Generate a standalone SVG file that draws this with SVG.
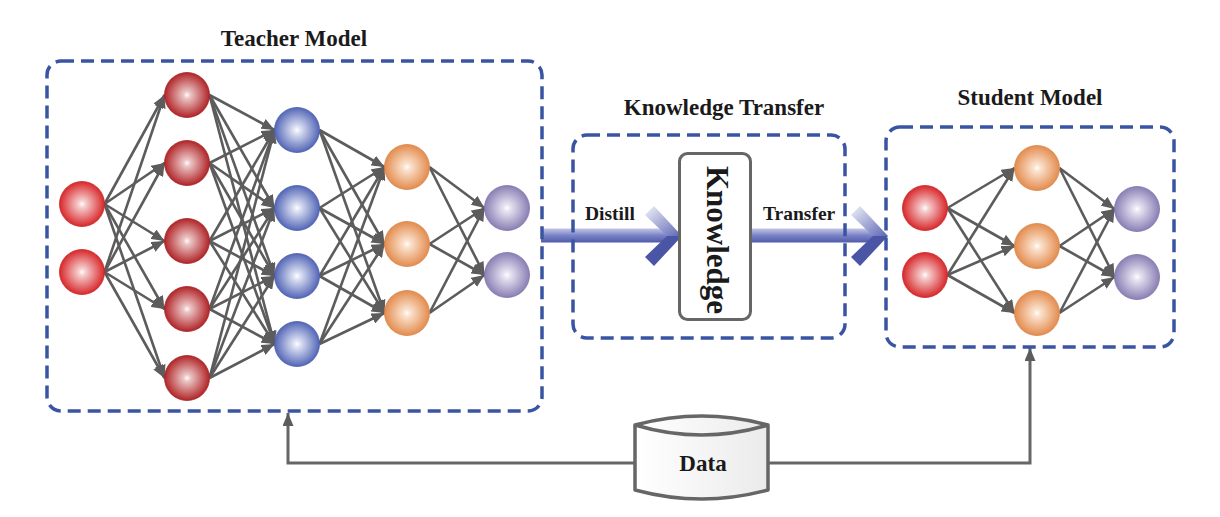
<svg xmlns="http://www.w3.org/2000/svg" width="1220" height="517" viewBox="0 0 1220 517">
<style>
.title{font-family:"Liberation Serif","Times New Roman",serif;font-weight:bold;font-size:23px;fill:#1a1a1a;text-anchor:middle}
.lbl{font-family:"Liberation Serif","Times New Roman",serif;font-weight:bold;font-size:19.5px;fill:#1a1a1a}
.dbox{fill:none;stroke:#3a54a4;stroke-width:3.5;stroke-dasharray:13 7}
.conn line{stroke:#5c5c5c;stroke-width:2.6;marker-end:url(#ah)}
.wire{fill:none;stroke:#666;stroke-width:3;marker-end:url(#ah)}
.n{stroke-width:0.8}
</style>
<defs>
<marker id="ah" markerUnits="userSpaceOnUse" markerWidth="14" markerHeight="11" refX="13" refY="5.5" orient="auto">
<path d="M0,0 L13,5.5 L0,11 z" fill="#5c5c5c"/>
</marker>
<radialGradient id="gRed" cx="50%" cy="50%" r="50%"><stop offset="0" stop-color="#ffffff"/><stop offset="0.15" stop-color="#f6d0d0"/><stop offset="1" stop-color="#d8282b"/></radialGradient>
<radialGradient id="gDred" cx="50%" cy="50%" r="50%"><stop offset="0" stop-color="#ffffff"/><stop offset="0.15" stop-color="#ecc6c6"/><stop offset="1" stop-color="#b02528"/></radialGradient>
<radialGradient id="gBlue" cx="50%" cy="50%" r="50%"><stop offset="0" stop-color="#ffffff"/><stop offset="0.15" stop-color="#dfe3f4"/><stop offset="1" stop-color="#5366b6"/></radialGradient>
<radialGradient id="gOr" cx="50%" cy="50%" r="50%"><stop offset="0" stop-color="#ffffff"/><stop offset="0.15" stop-color="#fbe3d0"/><stop offset="1" stop-color="#e38c4e"/></radialGradient>
<radialGradient id="gPu" cx="50%" cy="50%" r="50%"><stop offset="0" stop-color="#ffffff"/><stop offset="0.15" stop-color="#e8e5f2"/><stop offset="1" stop-color="#8a7fb4"/></radialGradient>
<linearGradient id="gShaft" x1="0" y1="0" x2="0" y2="1"><stop offset="0" stop-color="#c3c6e6"/><stop offset="0.5" stop-color="#7a82c6"/><stop offset="1" stop-color="#4f5aab"/></linearGradient>
<linearGradient id="gArmU" x1="0" y1="0" x2="1" y2="1"><stop offset="0" stop-color="#f2f2f8"/><stop offset="1" stop-color="#5c66b4"/></linearGradient>
<linearGradient id="gCyl" x1="0" y1="0" x2="1" y2="0"><stop offset="0" stop-color="#ffffff"/><stop offset="1" stop-color="#ebebeb"/></linearGradient>
</defs>

<g id="connectors">
<g class="conn">
<!-- Teacher L1 -> L2 -->
<line x1="104.5" y1="204" x2="164.5" y2="95"/><line x1="104.5" y1="204" x2="164.5" y2="163"/><line x1="104.5" y1="204" x2="164.5" y2="241"/><line x1="104.5" y1="204" x2="164.5" y2="309"/><line x1="104.5" y1="204" x2="164.5" y2="378"/>
<line x1="104.5" y1="272" x2="164.5" y2="95"/><line x1="104.5" y1="272" x2="164.5" y2="163"/><line x1="104.5" y1="272" x2="164.5" y2="241"/><line x1="104.5" y1="272" x2="164.5" y2="309"/><line x1="104.5" y1="272" x2="164.5" y2="378"/>
<!-- L2 -> L3 -->
<line x1="209.5" y1="95" x2="274.5" y2="130"/><line x1="209.5" y1="95" x2="274.5" y2="208"/><line x1="209.5" y1="95" x2="274.5" y2="276"/><line x1="209.5" y1="95" x2="274.5" y2="344"/>
<line x1="209.5" y1="163" x2="274.5" y2="130"/><line x1="209.5" y1="163" x2="274.5" y2="208"/><line x1="209.5" y1="163" x2="274.5" y2="276"/><line x1="209.5" y1="163" x2="274.5" y2="344"/>
<line x1="209.5" y1="241" x2="274.5" y2="130"/><line x1="209.5" y1="241" x2="274.5" y2="208"/><line x1="209.5" y1="241" x2="274.5" y2="276"/><line x1="209.5" y1="241" x2="274.5" y2="344"/>
<line x1="209.5" y1="309" x2="274.5" y2="130"/><line x1="209.5" y1="309" x2="274.5" y2="208"/><line x1="209.5" y1="309" x2="274.5" y2="276"/><line x1="209.5" y1="309" x2="274.5" y2="344"/>
<line x1="209.5" y1="378" x2="274.5" y2="130"/><line x1="209.5" y1="378" x2="274.5" y2="208"/><line x1="209.5" y1="378" x2="274.5" y2="276"/><line x1="209.5" y1="378" x2="274.5" y2="344"/>
<!-- L3 -> L4 -->
<line x1="319.5" y1="130" x2="384.5" y2="167"/><line x1="319.5" y1="130" x2="384.5" y2="244"/><line x1="319.5" y1="130" x2="384.5" y2="313"/>
<line x1="319.5" y1="208" x2="384.5" y2="167"/><line x1="319.5" y1="208" x2="384.5" y2="244"/><line x1="319.5" y1="208" x2="384.5" y2="313"/>
<line x1="319.5" y1="276" x2="384.5" y2="167"/><line x1="319.5" y1="276" x2="384.5" y2="244"/><line x1="319.5" y1="276" x2="384.5" y2="313"/>
<line x1="319.5" y1="344" x2="384.5" y2="167"/><line x1="319.5" y1="344" x2="384.5" y2="244"/><line x1="319.5" y1="344" x2="384.5" y2="313"/>
<!-- L4 -> L5 -->
<line x1="429.5" y1="167" x2="484.5" y2="208"/><line x1="429.5" y1="167" x2="484.5" y2="275"/>
<line x1="429.5" y1="244" x2="484.5" y2="208"/><line x1="429.5" y1="244" x2="484.5" y2="275"/>
<line x1="429.5" y1="313" x2="484.5" y2="208"/><line x1="429.5" y1="313" x2="484.5" y2="275"/>
<!-- Student S1 -> S2 -->
<line x1="947.5" y1="208" x2="1014.5" y2="168"/><line x1="947.5" y1="208" x2="1014.5" y2="246"/><line x1="947.5" y1="208" x2="1014.5" y2="313"/>
<line x1="947.5" y1="275" x2="1014.5" y2="168"/><line x1="947.5" y1="275" x2="1014.5" y2="246"/><line x1="947.5" y1="275" x2="1014.5" y2="313"/>
<!-- S2 -> S3 -->
<line x1="1059.5" y1="168" x2="1114.5" y2="209"/><line x1="1059.5" y1="168" x2="1114.5" y2="277"/>
<line x1="1059.5" y1="246" x2="1114.5" y2="209"/><line x1="1059.5" y1="246" x2="1114.5" y2="277"/>
<line x1="1059.5" y1="313" x2="1114.5" y2="209"/><line x1="1059.5" y1="313" x2="1114.5" y2="277"/>
</g>
<!-- Data wires -->
<path class="wire" d="M636,463 L288,463 L288,413"/>
<path class="wire" d="M768,463 L1030,463 L1030,348"/>
<!-- Distill arrow -->
<g id="arrow-distill">
<rect x="541" y="228.5" width="132" height="14" fill="url(#gShaft)"/>
<polygon points="645,215 654,206 682,236 667,236" fill="url(#gArmU)"/>
<polygon points="667,236 682,236 654,266 645,257" fill="#4a55a6"/>
</g>
<!-- Transfer arrow -->
<g id="arrow-transfer">
<rect x="752" y="228.5" width="127" height="14" fill="url(#gShaft)"/>
<polygon points="851,215 860,206 888,236 873,236" fill="url(#gArmU)"/>
<polygon points="873,236 888,236 860,266 851,257" fill="#4a55a6"/>
</g>
</g>

<g id="teacher-model">
<rect class="dbox" x="47" y="61" width="495" height="350" rx="14"/>
<text class="title" x="294" y="46">Teacher Model</text>
<g class="n">
<circle cx="82" cy="204" r="22.5" fill="url(#gRed)" stroke="#c92427"/>
<circle cx="82" cy="272" r="22.5" fill="url(#gRed)" stroke="#c92427"/>
<circle cx="187" cy="95" r="22.5" fill="url(#gDred)" stroke="#a22225"/>
<circle cx="187" cy="163" r="22.5" fill="url(#gDred)" stroke="#a22225"/>
<circle cx="187" cy="241" r="22.5" fill="url(#gDred)" stroke="#a22225"/>
<circle cx="187" cy="309" r="22.5" fill="url(#gDred)" stroke="#a22225"/>
<circle cx="187" cy="378" r="22.5" fill="url(#gDred)" stroke="#a22225"/>
<circle cx="297" cy="130" r="22.5" fill="url(#gBlue)" stroke="#4b5ca8"/>
<circle cx="297" cy="208" r="22.5" fill="url(#gBlue)" stroke="#4b5ca8"/>
<circle cx="297" cy="276" r="22.5" fill="url(#gBlue)" stroke="#4b5ca8"/>
<circle cx="297" cy="344" r="22.5" fill="url(#gBlue)" stroke="#4b5ca8"/>
<circle cx="407" cy="167" r="22.5" fill="url(#gOr)" stroke="#d9844a"/>
<circle cx="407" cy="244" r="22.5" fill="url(#gOr)" stroke="#d9844a"/>
<circle cx="407" cy="313" r="22.5" fill="url(#gOr)" stroke="#d9844a"/>
<circle cx="507" cy="208" r="22.5" fill="url(#gPu)" stroke="#8075aa"/>
<circle cx="507" cy="275" r="22.5" fill="url(#gPu)" stroke="#8075aa"/>
</g>
</g>

<g id="knowledge-transfer">
<rect class="dbox" x="573" y="135" width="272" height="203" rx="14"/>
<text class="title" x="724" y="115">Knowledge Transfer</text>
<text class="lbl" x="585" y="220">Distill</text>
<text class="lbl" x="763" y="220">Transfer</text>
</g>

<g id="knowledge">
<rect x="679.5" y="153.5" width="71" height="166" rx="8" fill="#fff" stroke="#666" stroke-width="3"/>
<text transform="translate(716,240) rotate(90)" x="0" y="9" font-family="'Liberation Serif','Times New Roman',serif" font-weight="bold" font-size="31" fill="#1a1a1a" text-anchor="middle">Knowledge</text>
</g>

<g id="student-model">
<rect class="dbox" x="886" y="127" width="288" height="220" rx="14"/>
<text class="title" x="1030" y="105">Student Model</text>
<g class="n">
<circle cx="925" cy="208" r="22.5" fill="url(#gRed)" stroke="#c92427"/>
<circle cx="925" cy="275" r="22.5" fill="url(#gRed)" stroke="#c92427"/>
<circle cx="1037" cy="168" r="22.5" fill="url(#gOr)" stroke="#d9844a"/>
<circle cx="1037" cy="246" r="22.5" fill="url(#gOr)" stroke="#d9844a"/>
<circle cx="1037" cy="313" r="22.5" fill="url(#gOr)" stroke="#d9844a"/>
<circle cx="1137" cy="209" r="22.5" fill="url(#gPu)" stroke="#8075aa"/>
<circle cx="1137" cy="277" r="22.5" fill="url(#gPu)" stroke="#8075aa"/>
</g>
</g>

<g id="data">
<path d="M635,425 Q702,407 768,425 L768,490 Q702,508 635,490 Z" fill="url(#gCyl)" stroke="#666" stroke-width="3.5" stroke-linejoin="round"/>
<path d="M635,425 Q702,445 768,425" fill="none" stroke="#666" stroke-width="3.5"/>
<text x="703" y="471" font-family="'Liberation Serif','Times New Roman',serif" font-weight="bold" font-size="23" fill="#1a1a1a" text-anchor="middle">Data</text>
</g>
</svg>
